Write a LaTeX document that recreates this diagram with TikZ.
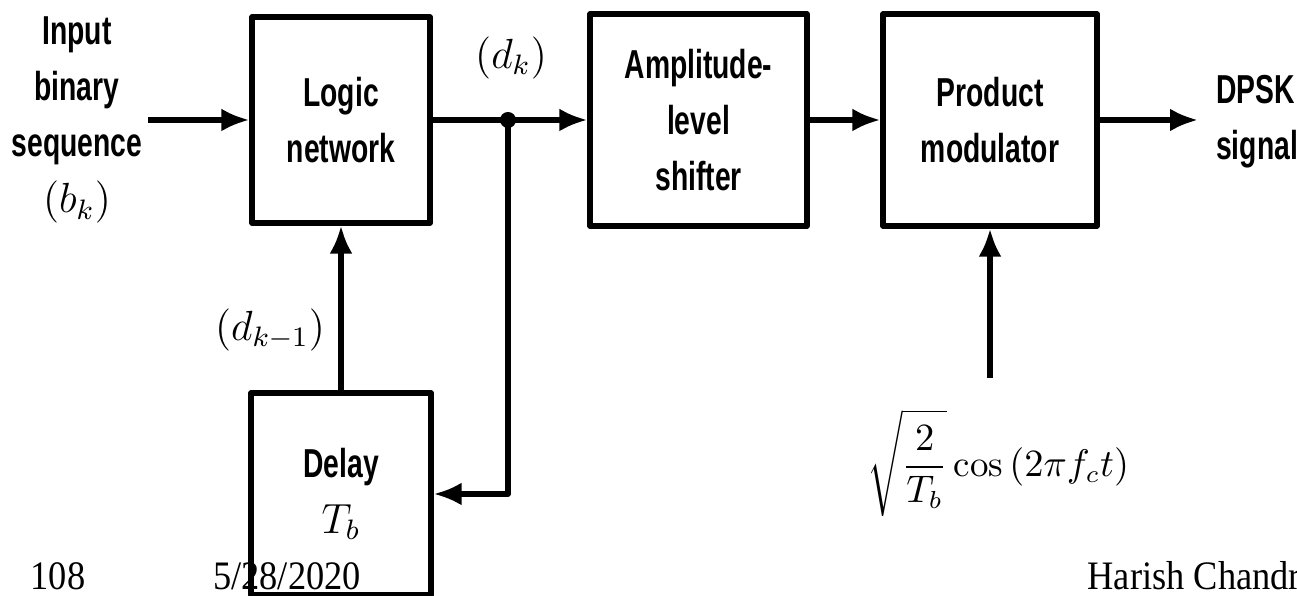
\documentclass[tikz,border=0pt]{standalone}
\usepackage{fontspec}
\usetikzlibrary{arrows.meta}
\newfontfamily\blockfont{Liberation Sans}[FakeStretch=0.7]
\newfontfamily\slidefont{Liberation Serif}[FakeStretch=0.9]
\begin{document}
\begin{tikzpicture}[line join=round,font=\blockfont\bfseries\fontsize{11.5}{16}\selectfont,>={Latex[length=2.8mm,width=2.3mm]},
	blk/.style={draw,line width=1.5pt,align=center,inner sep=0pt},
	sig/.style={line width=1.5pt,->},
	lbl/.style={align=center,inner sep=1pt},
	foot/.style={font=\slidefont\fontsize{11.5}{14}\selectfont,anchor=base,inner sep=0pt}]
	\useasboundingbox (0,0) rectangle (12.97,-5.96);
	\clip (0,0) rectangle (12.97,-5.96);
	\node[blk,minimum width=1.78cm,minimum height=2.06cm] (logic) at (3.41,-1.20) {Logic\\network};
	\node[blk,minimum width=2.17cm,minimum height=2.12cm] (amp) at (6.985,-1.20) {Amplitude-\\level\\shifter};
	\node[blk,minimum width=2.14cm,minimum height=2.12cm] (prod) at (9.90,-1.20) {Product\\modulator};
	\node[blk,minimum width=1.80cm,minimum height=2.02cm] (delay) at (3.41,-4.94) {Delay\\$T_b$};
	\node[lbl] (in) at (0.77,-1.20) {Input\\binary\\sequence\\$(b_k)$};
	\node[lbl,anchor=west,align=left] (out) at (12.12,-1.22) {DPSK\\signal};
	\node[lbl] (dk) at (5.11,-0.58) {$(d_k)$};
	\node[lbl] (dkm) at (2.70,-3.30) {$(d_{k-1})$};
	\node[lbl,font=\fontsize{10.5}{13}\selectfont] (carrier) at (9.98,-4.63) {$\displaystyle\sqrt{\frac{2}{T_b}}\cos\,(2\pi f_c t)$};
	\coordinate (inend) at (1.48,-1.20);
	\coordinate (jn) at (5.08,-1.20);
	\coordinate (outend) at (11.98,-1.20);
	\coordinate (carend) at (9.90,-3.78);
	\draw[sig] (inend)--(logic.west);
	\draw[line width=1.5pt] (logic.east)--(jn);
	\draw[sig] (jn)--(amp.west);
	\draw[sig] (amp.east)--(prod.west);
	\draw[sig] (prod.east)--(outend);
	\draw[sig] (jn)|-(delay.east);
	\draw[sig] (delay.north)--(logic.south);
	\draw[sig] (carend)--(prod.south);
	\fill (jn) circle (0.08);
	\node[foot] (page) at (0.58,-5.90) {108};
	\node[foot] (date) at (2.87,-5.90) {5/28/2020};
	\node[foot,anchor=base west] (name) at (10.87,-5.90) {Harish Chandr};
\end{tikzpicture}
\end{document}
